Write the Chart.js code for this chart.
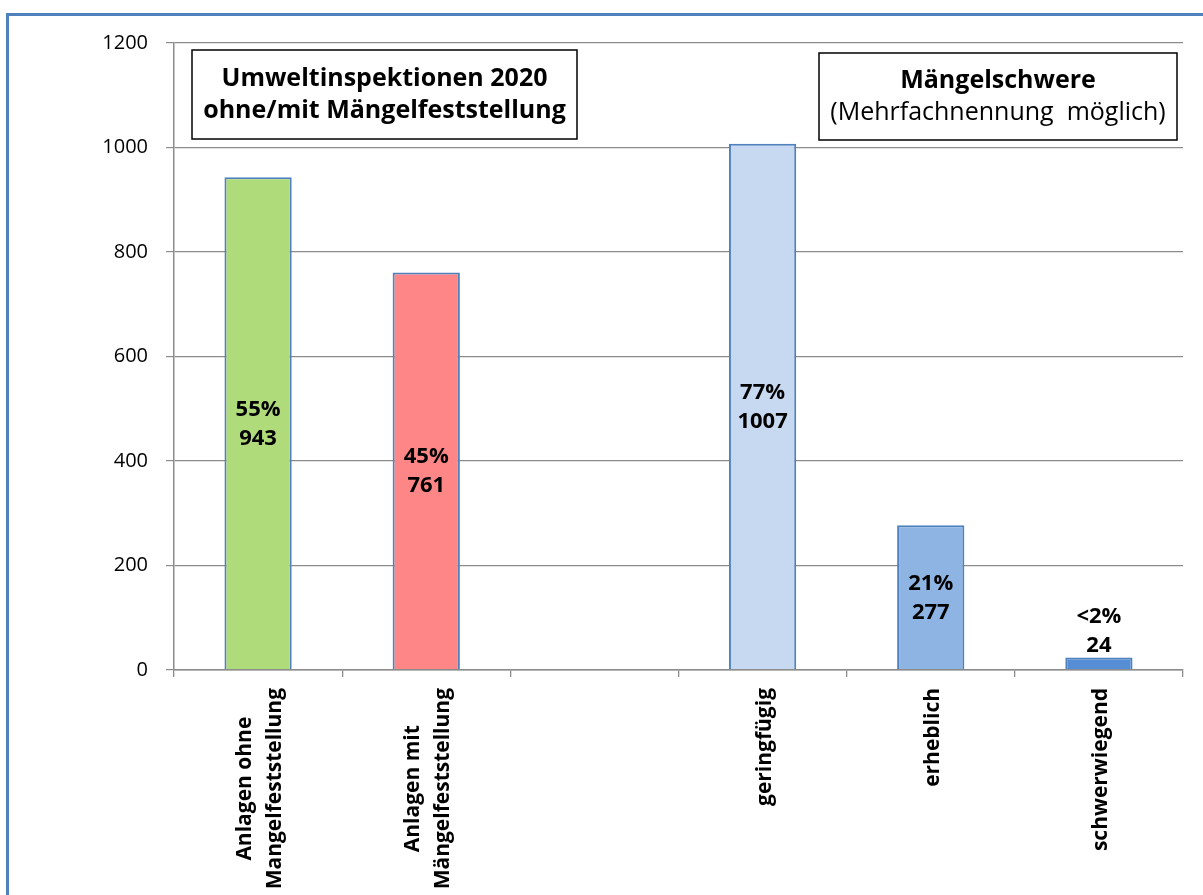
<!DOCTYPE html>
<html>
<head>
<meta charset="utf-8">
<script src="https://cdn.jsdelivr.net/npm/chart.js@4/dist/chart.umd.min.js"></script>
<style>
  html, body { margin: 0; padding: 0; background: #fff; overflow: hidden; }
  #frame { position: absolute; left: 6px; top: 13px; width: 1400px; height: 1100px; border: 3px solid #4f81bd; box-sizing: border-box; }
  #wrap { position: absolute; left: 0; top: 0; width: 1203px; height: 895px; }
</style>
</head>
<body>
<div id="frame"></div>
<div id="wrap"><canvas id="c" width="1203" height="895"></canvas></div>
<script>
// ---- data ----
const categories = [
  ["Anlagen ohne", "Mangelfeststellung"],
  ["Anlagen mit", "Mängelfeststellung"],
  [""],
  ["geringfügig"],
  ["erheblich"],
  ["schwerwiegend"]
];
const counts = [943, 761, null, 1007, 277, 24];
const shares = ["55%", "45%", "", "77%", "21%", "<2%"];
const barColors = ["#afdb7a", "#ff8686", "#c6d9f1", "#c6d9f1", "#8eb4e3", "#558ed5"];
const yTicks = [0, 200, 400, 600, 800, 1000, 1200];
const boxTexts = [
  { lines: ["Umweltinspektionen 2020", "ohne/mit Mängelfeststellung"], bold: [true, true] },
  { lines: ["Mängelschwere", "(Mehrfachnennung  möglich)"], bold: [true, false] }
];

const FONT = "'Open Sans', 'Noto Sans', sans-serif";

const valueLabels = {
  id: 'valueLabels',
  afterDatasetsDraw(chart) {
    const ctx = chart.ctx;
    const meta = chart.getDatasetMeta(0);
    ctx.save();
    ctx.font = "bold 22px " + FONT;
    ctx.fillStyle = "#000";
    ctx.textAlign = "center";
    ctx.textBaseline = "middle";
    meta.data.forEach((bar, i) => {
      if (counts[i] == null) return;
      const h = bar.base - bar.y;
      const l1 = shares[i], l2 = String(counts[i]);
      if (h > 70) {
        const cy = (bar.y + bar.base) / 2;
        ctx.fillText(l1, bar.x, cy - 14);
        ctx.fillText(l2, bar.x, cy + 15);
      } else {
        ctx.fillText(l2, bar.x, bar.y - 12);
        ctx.fillText(l1, bar.x, bar.y - 41);
      }
    });
    ctx.restore();
  }
};

const xLabels = {
  id: 'xLabels',
  afterDraw(chart) {
    const ctx = chart.ctx;
    const xs = chart.scales.x;
    const top = xs.top + 18;
    const lh = 30;
    ctx.save();
    ctx.font = "bold 21px " + FONT;
    ctx.fillStyle = "#000";
    ctx.textAlign = "center";
    ctx.textBaseline = "middle";
    categories.forEach((lines, i) => {
      const x = xs.getPixelForTick(i);
      const maxW = Math.max(...lines.map(l => ctx.measureText(l).width));
      ctx.save();
      ctx.translate(x + 2, top);
      ctx.rotate(-Math.PI / 2);
      lines.forEach((l, j) => {
        ctx.fillText(l, -maxW / 2, (j - (lines.length - 1) / 2) * lh);
      });
      ctx.restore();
    });
    ctx.restore();
  }
};

const boxes = {
  id: 'boxes',
  afterDraw(chart) {
    const ctx = chart.ctx;
    const rects = [
      { x: 192, y: 50, w: 385, h: 89 },
      { x: 819, y: 53, w: 358, h: 87 }
    ];
    ctx.save();
    rects.forEach((r, k) => {
      ctx.fillStyle = "#fff";
      ctx.fillRect(r.x, r.y, r.w, r.h);
      ctx.strokeStyle = "#000";
      ctx.lineWidth = 1.5;
      ctx.strokeRect(r.x, r.y, r.w, r.h);
      ctx.fillStyle = "#000";
      ctx.textAlign = "center";
      ctx.textBaseline = "middle";
      const t = boxTexts[k];
      t.lines.forEach((l, j) => {
        ctx.font = (t.bold[j] ? "bold " : "") + "25px " + FONT;
        ctx.fillText(l, r.x + r.w / 2, r.y + r.h / 2 + (j - 0.5) * 32);
      });
    });
    ctx.restore();
  }
};

new Chart(document.getElementById('c'), {
  type: 'bar',
  data: {
    labels: categories,
    datasets: [{
      data: counts,
      backgroundColor: barColors,
      borderColor: "#4f81bd",
      borderWidth: 2,
      categoryPercentage: 1.0,
      barPercentage: 0.4
    }]
  },
  options: {
    responsive: false,
    animation: false,
    devicePixelRatio: 1,
    layout: { padding: { left: 0, top: 43, right: 20, bottom: 0 } },
    plugins: { legend: { display: false }, tooltip: { enabled: false } },
    scales: {
      x: {
        afterFit(s) { s.height = 225; },
        grid: { offset: true, drawOnChartArea: false, drawTicks: true, tickLength: 7, color: "#8c8c8c", lineWidth: 1.3 },
        border: { display: true, color: "#8c8c8c", width: 1.5, z: 1 },
        ticks: { display: false, autoSkip: false }
      },
      y: {
        min: 0, max: 1200,
        afterFit(s) { s.width = 174; },
        afterBuildTicks(s) { s.ticks = yTicks.map(v => ({ value: v })); },
        grid: { color: "#8c8c8c", lineWidth: 1.2, tickLength: 8 },
        border: { display: true, color: "#8c8c8c", width: 1.5 },
        ticks: {
          color: "#000",
          font: { family: FONT, size: 20 },
          padding: 18,
          callback: (v) => String(v)
        }
      }
    }
  },
  plugins: [valueLabels, xLabels, boxes]
});
</script>
</body>
</html>
